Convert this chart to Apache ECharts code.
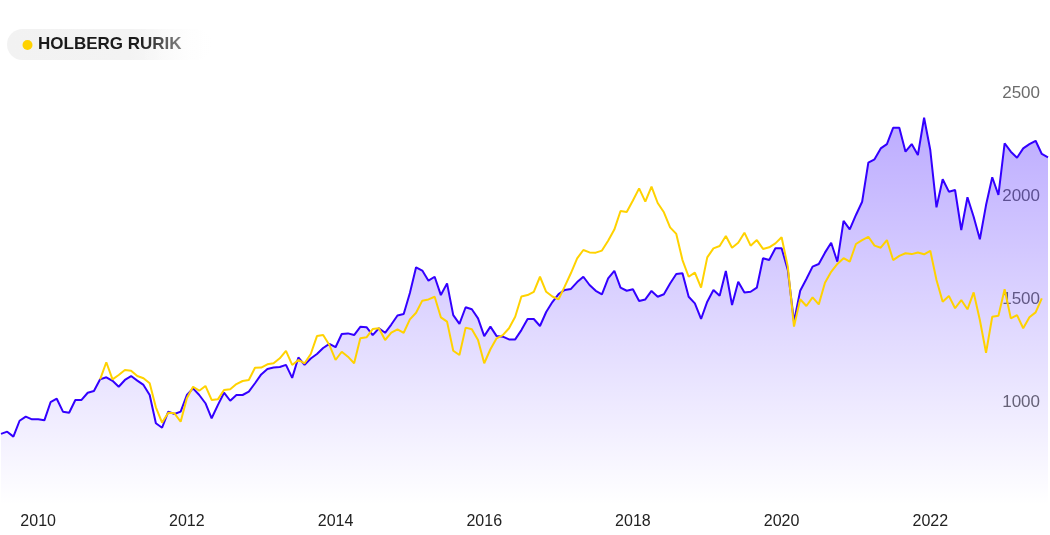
<!DOCTYPE html>
<html>
<head>
<meta charset="utf-8">
<script src="https://cdn.jsdelivr.net/npm/echarts@6/dist/echarts.min.js"></script>
<style>
html,body{margin:0;padding:0;background:#fff;}
#chart{width:1050px;height:535px;}
</style>
</head>
<body>
<div id="chart"></div>
<script>
// Monthly observations, first month July 2009, 170 months
const startYear = 2009;
const startMonth = 7;
const monthCount = 170;
const months = [];
for (let k = 0; k < monthCount; k++) {
  const m0 = startMonth - 1 + k;
  const y = startYear + Math.floor(m0 / 12);
  const m = (m0 % 12) + 1;
  months.push(y + '-' + (m < 10 ? '0' + m : m));
}

// Benchmark (blue area line)
const benchmark = [
  845, 856, 832, 909, 929, 916, 916, 911, 999, 1016,
  953, 948, 1010, 1010, 1045, 1053, 1110, 1120, 1103, 1074,
  1107, 1126, 1104, 1083, 1034, 897, 875, 953, 942, 953,
  1034, 1066, 1034, 994, 921, 985, 1045, 1006, 1034, 1034,
  1050, 1091, 1134, 1160, 1167, 1170, 1180, 1117, 1216, 1180,
  1211, 1233, 1262, 1282, 1266, 1330, 1333, 1325, 1365, 1363,
  1325, 1358, 1336, 1376, 1420, 1427, 1529, 1654, 1638, 1589,
  1608, 1519, 1576, 1422, 1379, 1460, 1450, 1406, 1320, 1366,
  1320, 1317, 1304, 1304, 1349, 1403, 1403, 1369, 1437, 1485,
  1524, 1544, 1549, 1582, 1608, 1568, 1540, 1523, 1600, 1637,
  1555, 1540, 1547, 1490, 1498, 1539, 1511, 1523, 1575, 1621,
  1625, 1511, 1479, 1403, 1487, 1544, 1516, 1636, 1471, 1584,
  1531, 1535, 1555, 1698, 1689, 1746, 1746, 1641, 1390, 1540,
  1597, 1657, 1670, 1725, 1773, 1681, 1879, 1838, 1908, 1972,
  2162, 2178, 2231, 2252, 2331, 2331, 2215, 2252, 2199, 2380,
  2223, 1945, 2081, 2021, 2029, 1835, 1994, 1899, 1790, 1956,
  2091, 2005, 2256, 2215, 2186, 2231, 2252, 2268, 2204, 2188
];

// HOLBERG RURIK (yellow line), starts Nov 2010
const fund = [
  null, null, null, null, null, null, null, null, null, null,
  null, null, null, null, null, null, 1110, 1193, 1110, 1131,
  1155, 1152, 1126, 1115, 1091, 974, 900, 948, 945, 904,
  1018, 1074, 1055, 1078, 1010, 1013, 1058, 1062, 1087, 1102,
  1107, 1166, 1167, 1183, 1188, 1212, 1248, 1180, 1204, 1188,
  1233, 1320, 1325, 1277, 1204, 1244, 1220, 1188, 1309, 1314,
  1354, 1358, 1301, 1337, 1353, 1336, 1401, 1433, 1492, 1498,
  1511, 1411, 1390, 1249, 1228, 1361, 1353, 1301, 1188, 1256,
  1309, 1325, 1358, 1414, 1512, 1519, 1535, 1608, 1535, 1512,
  1498, 1561, 1626, 1697, 1738, 1726, 1725, 1735, 1783, 1837,
  1927, 1922, 1978, 2037, 1973, 2046, 1966, 1921, 1848, 1816,
  1689, 1608, 1628, 1555, 1702, 1746, 1757, 1806, 1749, 1773,
  1822, 1759, 1786, 1743, 1751, 1770, 1800, 1657, 1366, 1499,
  1466, 1508, 1474, 1579, 1632, 1670, 1698, 1681, 1767, 1786,
  1802, 1759, 1749, 1786, 1689, 1709, 1722, 1718, 1726, 1717,
  1734, 1592, 1487, 1515, 1455, 1495, 1450, 1532, 1398, 1239,
  1414, 1419, 1547, 1406, 1422, 1358, 1411, 1435, 1503, null
];

const yMin = 500;
const yMax = 2500;
const yStep = 500;
const legendLabel = 'HOLBERG RURIK';

const chart = echarts.init(document.getElementById('chart'), null, {renderer: 'canvas'});

chart.setOption({
  animation: false,
  backgroundColor: '#ffffff',
  textStyle: {fontFamily: '"Liberation Sans", Arial, sans-serif'},
  grid: {left: 1, right: 2, top: 93, bottom: 30, containLabel: false},
  xAxis: {
    type: 'category',
    data: months,
    boundaryGap: false,
    axisLine: {show: false},
    axisTick: {show: false},
    splitLine: {show: false},
    axisLabel: {
      margin: 9,
      color: '#222222',
      fontSize: 16,
      interval: function (idx, val) {
        const y = parseInt(val.slice(0, 4), 10);
        return val.slice(5) === '01' && y % 2 === 0;
      },
      formatter: function (val) { return val.slice(0, 4); }
    }
  },
  yAxis: {
    type: 'value',
    position: 'right',
    min: yMin,
    max: yMax,
    interval: yStep,
    axisLine: {show: false},
    axisTick: {show: false},
    splitLine: {show: false},
    axisLabel: {
      inside: true,
      margin: 8,
      color: '#6b6b6b',
      fontSize: 17,
      showMinLabel: false,
      formatter: function (v) { return String(v); }
    }
  },
  series: [
    {
      name: 'Benchmark',
      type: 'line',
      data: benchmark,
      symbol: 'none',
      smooth: false,
      lineStyle: {color: '#3300ff', width: 2},
      itemStyle: {color: '#3300ff'},
      areaStyle: {
        color: new echarts.graphic.LinearGradient(0, 0, 0, 1, [
          {offset: 0, color: 'rgba(51,0,255,0.47)'},
          {offset: 1, color: 'rgba(51,0,255,0.0)'}
        ])
      },
      z: 2
    },
    {
      name: legendLabel,
      type: 'line',
      data: fund,
      symbol: 'none',
      smooth: false,
      connectNulls: false,
      lineStyle: {color: '#ffd200', width: 2},
      itemStyle: {color: '#ffd200'},
      z: 3
    }
  ],
  graphic: [
    {
      type: 'rect',
      left: 7, top: 29,
      shape: {width: 205, height: 31, r: 15.5},
      style: {
        fill: new echarts.graphic.LinearGradient(0, 0, 1, 0, [
          {offset: 0, color: '#f2f2f2'},
          {offset: 0.6, color: '#f3f3f3'},
          {offset: 1, color: '#ffffff'}
        ])
      },
      z: 10
    },
    {
      type: 'circle',
      shape: {cx: 27.5, cy: 45, r: 5},
      style: {fill: '#ffd200'},
      z: 11
    },
    {
      type: 'text',
      left: 38, top: 36,
      style: {
        text: legendLabel,
        fill: '#1a1a1a',
        font: 'bold 17px "Liberation Sans", Arial, sans-serif'
      },
      z: 11
    },
    {
      type: 'rect',
      left: 140, top: 28,
      shape: {width: 75, height: 33},
      style: {
        fill: new echarts.graphic.LinearGradient(0, 0, 1, 0, [
          {offset: 0, color: 'rgba(255,255,255,0)'},
          {offset: 0.9, color: 'rgba(255,255,255,0.75)'},
          {offset: 1, color: 'rgba(255,255,255,0.95)'}
        ])
      },
      z: 12
    }
  ]
});
</script>
</body>
</html>
